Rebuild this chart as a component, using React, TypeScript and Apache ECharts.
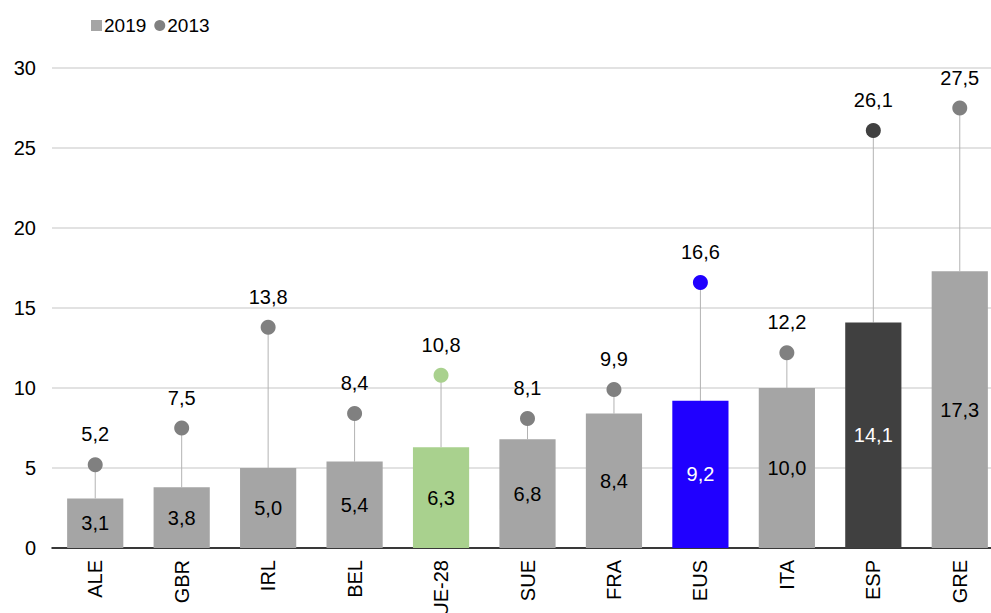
import React, { useEffect, useRef } from "react";
import * as echarts from "echarts";

const categories = ["ALE", "GBR", "IRL", "BEL", "UE-28", "SUE", "FRA", "EUS", "ITA", "ESP", "GRE"];
const values2019 = [3.1, 3.8, 5.0, 5.4, 6.3, 6.8, 8.4, 9.2, 10.0, 14.1, 17.3];
const values2013 = [5.2, 7.5, 13.8, 8.4, 10.8, 8.1, 9.9, 16.6, 12.2, 26.1, 27.5];
const barColors = ["#a5a5a5", "#a5a5a5", "#a5a5a5", "#a5a5a5", "#a9d18e", "#a5a5a5", "#a5a5a5", "#2000ff", "#a5a5a5", "#404040", "#a5a5a5"];
const dotColors = ["#808080", "#808080", "#808080", "#808080", "#a9d18e", "#808080", "#808080", "#2000ff", "#808080", "#404040", "#808080"];
const whiteLabel = [false, false, false, false, false, false, false, true, false, true, false];

const FONT = "'Liberation Sans', Arial, Helvetica, sans-serif";
const fmt = (v: number) => v.toFixed(1).replace(".", ",");

export default function App() {
  const ref = useRef<HTMLDivElement>(null);
  useEffect(() => {
    if (!ref.current) return;
    const chart = echarts.init(ref.current, undefined, { renderer: "svg" });
    chart.setOption({
      animation: false,
      textStyle: { fontFamily: FONT },
      legend: {
        left: 86,
        top: 11,
        itemGap: 8,
        itemWidth: 11,
        itemHeight: 11,
        textStyle: { fontSize: 19, color: "#000", fontFamily: FONT, padding: [0, 0, 0, -3] },
        data: [
          { name: "2019", icon: "rect", itemStyle: { color: "#a5a5a5" } },
          { name: "2013", icon: "circle", itemStyle: { color: "#808080" } },
        ],
      },
      grid: { left: 52, right: 0, top: 68, bottom: 65, containLabel: false, outerBoundsMode: "none" },
      xAxis: {
        type: "category",
        data: categories,
        axisLine: { lineStyle: { color: "#000", width: 1.5 } },
        axisTick: { show: false },
        axisLabel: { rotate: 90, fontSize: 20, color: "#000", margin: 12, fontFamily: FONT },
      },
      yAxis: {
        type: "value",
        min: 0,
        max: 30,
        interval: 5,
        axisLine: { show: false },
        axisTick: { show: false },
        splitLine: { lineStyle: { color: "#d9d9d9", width: 1.5 } },
        axisLabel: { fontSize: 20, color: "#000", margin: 16, fontFamily: FONT },
      },
      series: [
        {
          name: "stems",
          type: "custom",
          z: 1,
          silent: true,
          renderItem: (params: any, api: any) => {
            const i = api.value(0);
            const a = api.coord([i, api.value(1)]);
            const b = api.coord([i, api.value(2)]);
            return {
              type: "line",
              shape: { x1: a[0], y1: a[1], x2: b[0], y2: b[1] },
              style: { stroke: "#b3b3b3", lineWidth: 1 },
            };
          },
          data: categories.map((_, i) => [i, values2019[i], values2013[i]]),
        },
        {
          name: "2019",
          type: "bar",
          z: 2,
          barWidth: "65%",
          itemStyle: { color: "#a5a5a5" },
          data: values2019.map((v, i) => ({
            value: v,
            itemStyle: { color: barColors[i] },
            label: { color: whiteLabel[i] ? "#fff" : "#000" },
          })),
          label: {
            show: true,
            position: "inside",
            fontSize: 20,
            fontFamily: FONT,
            formatter: (p: any) => fmt(p.value),
          },
        },
        {
          name: "2013",
          type: "scatter",
          z: 3,
          symbol: "circle",
          symbolSize: 15,
          itemStyle: { color: "#808080", opacity: 1 },
          data: values2013.map((v, i) => ({ value: v, itemStyle: { color: dotColors[i], opacity: 1 } })),
          label: {
            show: true,
            position: "top",
            distance: 13,
            fontSize: 20,
            color: "#000",
            fontFamily: FONT,
            formatter: (p: any) => fmt(p.value),
          },
        },
      ],
    });
    return () => chart.dispose();
  }, []);
  return (
    <div style={{ position: "fixed", left: 0, top: 0, width: 991, height: 613, overflow: "hidden", background: "#fff" }}>
      <div ref={ref} style={{ width: 1003, height: 613 }} />
    </div>
  );
}
